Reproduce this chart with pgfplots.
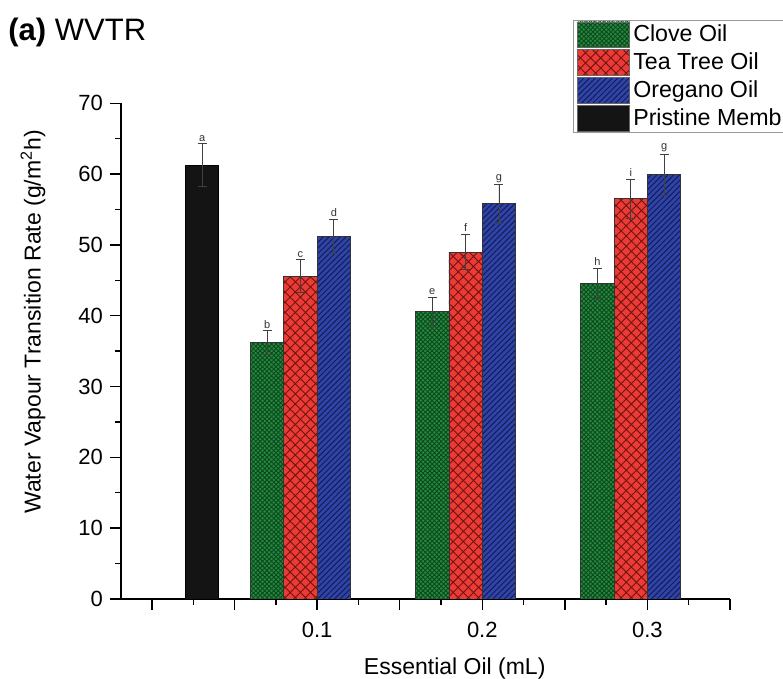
\documentclass[border=0pt]{standalone}
\usepackage{fontspec}
\setmainfont{Liberation Sans}
\usepackage{pgfplots}
\pgfplotsset{compat=1.18}
\usetikzlibrary{patterns.meta}
\definecolor{cgreen}{RGB}{38,138,62}
\definecolor{cgreenl}{RGB}{12,72,30}
\definecolor{cred}{RGB}{236,58,52}
\definecolor{credl}{RGB}{110,20,20}
\definecolor{cblue}{RGB}{48,68,168}
\definecolor{cbluel}{RGB}{18,28,88}
\definecolor{cblack}{RGB}{20,20,20}
\begin{document}
\begin{tikzpicture}
\useasboundingbox (-60.5pt,-40pt) rectangle (331pt,299.5pt);
\clip (-60.5pt,-40pt) rectangle (331pt,299.5pt);
\begin{axis}[
  at={(0pt,0pt)}, anchor=south west,
  scale only axis, width=304.5pt, height=247.85pt,
  ybar, bar width=16.68pt,
  xmin=-0.0188, xmax=0.35, ymin=0, ymax=70,
  axis x line*=bottom, axis y line*=left,
  axis line style={-, line width=0.75pt},
  tick align=outside, tick style={line width=0.7pt, black},
  major tick length=5.5pt, minor tick length=3pt,
  xtick={0,0.05,0.1,0.15,0.2,0.25,0.3,0.35},
  xticklabels={,,0.1,,0.2,,0.3,},
  minor xtick={0.025,0.075,0.125,0.175,0.225,0.275,0.325},
  ytick={0,10,20,30,40,50,60,70},
  minor ytick={5,15,25,35,45,55,65},
  /pgf/number format/assume math mode=true,
  ticklabel style={font=\fontsize{11}{12}\selectfont},
  xticklabel style={yshift=-2.5pt},
  every axis x label/.style={at={(axis description cs:0.548,-0.14)}, anchor=center},
  every axis y label/.style={at={(axis description cs:-0.1445,0.559)}, rotate=90, anchor=center},
  label style={font=\fontsize{11.5}{13}\selectfont},
  xlabel={Essential Oil (mL)},
  ylabel={Water Vapour Transition Rate (g/m\textsuperscript{2}h)},
  legend style={at={(0.742,1.168)}, anchor=north west, draw=gray!80, line width=0.6pt,
    inner xsep=2pt, inner ysep=0.5pt, row sep=0.8pt,
    font=\fontsize{11.6}{12}\selectfont,
    nodes={inner sep=1.6pt}},
  legend cell align=left,
  legimg/.style={legend image code/.code={\path[##1, draw=black!60, line width=0.3pt] (0pt,-6.4pt) rectangle (26pt,6.4pt);}},
  error bars/error bar style={line width=0.45pt, black!75},
  error bars/error mark options={rotate=90, mark size=2.25pt, line width=0.45pt, black!75},
]
\addplot[fill=cgreen, draw=black!80, line width=0.4pt, bar shift=-25.02pt,
  postaction={pattern={Hatch[angle=45,distance=1.6pt,line width=0.45pt]}, pattern color=cgreenl},
  error bars/.cd, y dir=both, y explicit, /pgfplots/.cd, legimg]
  table[x=x, y=y, y error=e] {
x y e
0.1 36.2 1.7
0.2 40.6 2.0
0.3 44.6 2.1
};
\addlegendentry{Clove Oil}
\addplot[fill=cred, draw=black!80, line width=0.4pt, bar shift=-8.34pt,
  postaction={pattern={Hatch[angle=45,distance=3.6pt,line width=0.45pt]}, pattern color=credl},
  error bars/.cd, y dir=both, y explicit, /pgfplots/.cd, legimg]
  table[x=x, y=y, y error=e] {
x y e
0.1 45.6 2.3
0.2 49.0 2.5
0.3 56.5 2.8
};
\addlegendentry{Tea Tree Oil}
\addplot[fill=cblue, draw=black!80, line width=0.4pt, bar shift=8.34pt,
  postaction={pattern={Lines[angle=45,distance=2pt,line width=0.5pt]}, pattern color=cbluel},
  error bars/.cd, y dir=both, y explicit, /pgfplots/.cd, legimg]
  table[x=x, y=y, y error=e] {
x y e
0.1 51.2 2.4
0.2 55.8 2.7
0.3 59.9 2.9
};
\addlegendentry{Oregano Oil}
\addplot[fill=cblack, draw=black, line width=0.4pt, bar shift=25.02pt,
  error bars/.cd, y dir=both, y explicit, /pgfplots/.cd, legimg]
  table[x=x, y=y, y error=e] {
x y e
0 61.3 3.0
};
\addlegendentry{Pristine Memb}
\begin{scope}[every node/.style={font=\fontsize{5.5}{6}\selectfont, anchor=south, inner sep=1pt, text=black!80}]
\node[xshift=25.02pt] at (axis cs:0,64.3) {a};
\node[xshift=-25.02pt] at (axis cs:0.1,37.9) {b};
\node[xshift=-8.34pt] at (axis cs:0.1,47.9) {c};
\node[xshift=8.34pt] at (axis cs:0.1,53.6) {d};
\node[xshift=-25.02pt] at (axis cs:0.2,42.6) {e};
\node[xshift=-8.34pt] at (axis cs:0.2,51.5) {f};
\node[xshift=8.34pt] at (axis cs:0.2,58.5) {g};
\node[xshift=-25.02pt] at (axis cs:0.3,46.7) {h};
\node[xshift=-8.34pt] at (axis cs:0.3,59.3) {i};
\node[xshift=8.34pt] at (axis cs:0.3,62.8) {g};
\end{scope}
\end{axis}
\node[anchor=base west, font=\fontsize{15.5}{17}\selectfont, inner xsep=0pt] at (-56.5pt,279pt) {\textbf{(a)} WVTR};
\end{tikzpicture}
\end{document}
